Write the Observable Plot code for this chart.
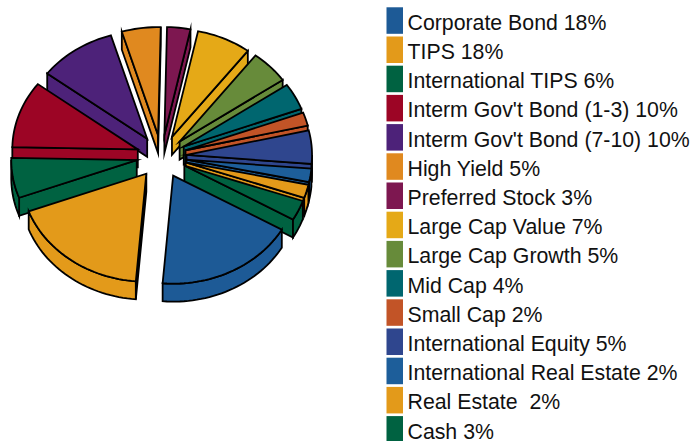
<!DOCTYPE html>
<html>
<head>
<meta charset="utf-8">
<script src="https://cdn.jsdelivr.net/npm/d3@7"></script>
<script src="https://cdn.jsdelivr.net/npm/@observablehq/plot@0.6"></script>
<style>
  html, body { margin: 0; padding: 0; background: #fff; }
  #chart { display: flex; width: 691px; height: 441px; overflow: hidden; }
  #chart svg { display: block; flex: none; }
</style>
</head>
<body>
<div id="chart"></div>
<script>
const categories = ["Corporate Bond", "TIPS", "International TIPS", "Interm Gov't Bond (1-3)", "Interm Gov't Bond (7-10)", "High Yield", "Preferred Stock", "Large Cap Value", "Large Cap Growth", "Mid Cap", "Small Cap", "International Equity", "International Real Estate", "Real Estate ", "Cash"];
const values = [18, 18, 6, 10, 10, 5, 3, 7, 5, 4, 2, 5, 2, 2, 3];
const colors = ["#1D5A96", "#E39A1A", "#006241", "#9C0525", "#4D2279", "#E0891F", "#7D1750", "#E5A917", "#678B3A", "#00666F", "#C25427", "#2F468E", "#1D5E9A", "#E39A1A", "#006241"];

const startAngle = 120;   // degrees clockwise from 12 o'clock
const explode = 0.2;      // slice offset, in radii
const depth = 1 / 6;      // extrusion, in radii

// Build the visible faces of each extruded slice, back to front.
const rad = (d) => (d * Math.PI) / 180;
let cumulative = startAngle;
const slices = values.map((v, i) => {
  const a0 = cumulative;
  const a1 = (cumulative += v * 3.6);
  return { name: categories[i], a0, a1, mid: (a0 + a1) / 2 };
});
slices.sort((p, q) => Math.cos(rad(q.mid)) - Math.cos(rad(p.mid)));

const faces = [];
slices.forEach((s) => {
  const ox = explode * Math.sin(rad(s.mid));
  const oy = explode * Math.cos(rad(s.mid));
  const steps = Math.max(2, Math.ceil((s.a1 - s.a0) / 2));
  const arc = d3.range(steps + 1).map((k) => s.a0 + ((s.a1 - s.a0) * k) / steps);
  const P = (a, dz) => (a == null ? [ox, oy - dz] : [ox + Math.sin(rad(a)), oy + Math.cos(rad(a)) - dz]);
  const push = (face, pts) => pts.forEach(([x, y]) => faces.push({ name: s.name, face: s.name + face, x, y }));
  // Only faces turned towards the viewer, who looks from above and in front.
  if (Math.sin(rad(s.a0)) < 0) push("-edge0", [P(null, 0), P(s.a0, 0), P(s.a0, depth), P(null, depth)]);
  if (Math.sin(rad(s.a1)) > 0) push("-edge1", [P(null, 0), P(s.a1, 0), P(s.a1, depth), P(null, depth)]);
  const front = [...arc, 90, 270, 450].filter((a) => a >= s.a0 && a <= s.a1 && Math.cos(rad(a)) < 1e-9).sort(d3.ascending);
  if (front.length > 1) push("-rim", [...front.map((a) => P(a, 0)), ...front.slice().reverse().map((a) => P(a, depth))]);
  push("-top", [P(null, 0), ...arc.map((a) => P(a, 0))]);
});

const pie = Plot.plot({
  width: 370,
  height: 441,
  margin: 0,
  x: { domain: [-161 / 125.5, (370 - 161) / 125.5], range: [0, 370], axis: null },
  y: { domain: [156 / 108, (156 - 441) / 108], range: [0, 441], axis: null },
  color: { domain: categories, range: colors },
  style: { background: "transparent", overflow: "visible" },
  marks: [
    Plot.line(faces, {
      x: "x", y: "y", z: "face", fill: "name",
      stroke: "#000", strokeWidth: 1.8,
      strokeLinejoin: "miter", strokeMiterlimit: 10, strokeLinecap: "butt",
      curve: "linear-closed"
    })
  ]
});

const legendRows = categories.map((name, i) => ({ name, label: `${name} ${values[i]}%` }));
const legend = Plot.plot({
  width: 321,
  height: 441,
  margin: 0,
  x: { domain: [0, 1], range: [16.5, 33], axis: null },
  y: { domain: categories, range: [4.6, 445.3], padding: 0.092, round: false, axis: null },
  color: { domain: categories, range: colors },
  style: { background: "transparent", overflow: "visible" },
  marks: [
    Plot.barX(legendRows, { x1: () => 0, x2: () => 1, y: "name", fill: "name" }),
    Plot.text(legendRows, {
      x: () => 1, y: "name", text: "label", dx: 4, dy: 2, textAnchor: "start",
      fontFamily: "Liberation Sans", fontSize: 21.3, fill: "#111", lineAnchor: "middle"
    })
  ]
});

document.getElementById("chart").append(pie, legend);
</script>
</body>
</html>
